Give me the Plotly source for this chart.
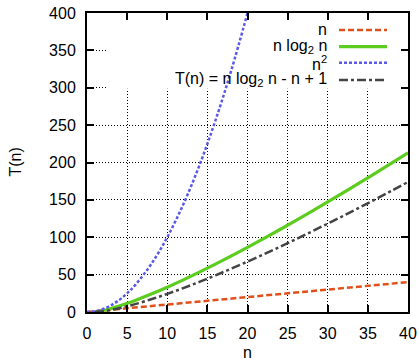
import plotly.graph_objects as go

# Values
n_x = [0, 40]
n_y = [0, 40]

nlog_x = [1, 2, 3, 4, 5, 6, 8, 10, 12, 14, 16, 18, 20, 22, 24, 26, 28, 30, 32, 34, 36, 38, 40]
nlog_y = [0, 2, 4.75, 8, 11.6, 15.5, 24, 33.2, 43.0, 53.3, 64, 75.1, 86.4, 98.1, 110.0, 122.2,
          134.6, 147.2, 160, 173.0, 186.1, 199.4, 212.9]

sq_x = [0, 1, 2, 3, 4, 5, 6, 8, 10, 12, 14, 16, 18, 20]
sq_y = [0, 1, 4, 9, 16, 25, 36, 64, 100, 144, 196, 256, 324, 400]

t_x = nlog_x
t_y = [0, 1, 2.75, 5, 7.6, 10.5, 17, 24.2, 32, 40.3, 49, 58.1, 67.4, 77.1, 87, 97.2,
       107.6, 118.2, 129, 140, 151.1, 162.4, 173.9]

x_ticks = [0, 5, 10, 15, 20, 25, 30, 35, 40]
y_ticks = [0, 50, 100, 150, 200, 250, 300, 350, 400]

labels = ["n", "n log<sub>2</sub> n", "n<sup>2</sup>", "T(n) = n log<sub>2</sub> n - n + 1"]
colors = ["#e0501a", "#5ccc1e", "#5a5ae6", "#444444"]
dashes = ["6px,3px", "solid", "3px,2px", "9px,3px,3px,3px"]
widths = [2.5, 3.2, 2.5, 2.5]

FONT = "Liberation Sans, Arial, sans-serif"
FS = 16

fig = go.Figure()
series = [(n_x, n_y), (nlog_x, nlog_y), (sq_x, sq_y), (t_x, t_y)]
for (xs, ys), lab, c, d, w in zip(series, labels, colors, dashes, widths):
    fig.add_trace(go.Scatter(x=xs, y=ys, mode="lines", name=lab,
                             line=dict(color=c, dash=d, width=w, shape="spline"),
                             showlegend=False, cliponaxis=True, hoverinfo="skip"))

# key box (hides the grid behind the key, like gnuplot)
fig.add_shape(type="rect", xref="x", yref="y", x0=2.4, x1=40, y0=298.5, y1=400,
              fillcolor="white", line=dict(width=0), layer="between")

# custom key: text on the left, sample on the right
row_y = [30, 46.7, 62.7, 80]
plot_top, plot_h = 13, 299
plot_left, plot_w = 87, 321
for lab, c, d, w, ry in zip(labels, colors, dashes, widths, row_y):
    yp = 1 - (ry - plot_top) / plot_h
    fig.add_annotation(xref="paper", yref="paper", x=(329 - plot_left) / plot_w, y=yp,
                       text=lab, showarrow=False, xanchor="right", yanchor="middle",
                       font=dict(family=FONT, size=FS, color="black"))
    fig.add_shape(type="line", xref="paper", yref="paper",
                  x0=(339 - plot_left) / plot_w, x1=(387 - plot_left) / plot_w, y0=yp, y1=yp,
                  line=dict(color=c, dash=d, width=w), layer="above")

# y-axis title placed like gnuplot's
fig.add_annotation(xref="paper", yref="paper", x=(15 - plot_left) / plot_w, y=0.5,
                   text="T(n)", textangle=-90, showarrow=False, xanchor="center", yanchor="middle",
                   font=dict(family=FONT, size=FS, color="black"))

axis_common = dict(showline=True, linecolor="black", linewidth=2, mirror="ticks",
                   ticks="inside", ticklen=7, tickwidth=2, tickcolor="black",
                   showgrid=True, gridcolor="black", gridwidth=1, griddash="1px,2px",
                   zeroline=False, automargin=False,
                   tickfont=dict(family=FONT, size=FS, color="black"))

fig.update_xaxes(range=[0, 40], tickvals=x_ticks, ticklabelstandoff=6,
                 title=dict(text="n", font=dict(family=FONT, size=FS, color="black")),
                 **axis_common)
fig.update_yaxes(range=[0, 400], tickvals=y_ticks, ticklabelstandoff=6,
                 **axis_common)

fig.update_layout(width=419, height=361, margin=dict(l=87, r=11, t=13, b=49),
                  plot_bgcolor="white", paper_bgcolor="white", showlegend=False,
                  font=dict(family=FONT, size=FS, color="black"))

fig.write_html("out.html", config={"displayModeBar": False},
               post_script="document.body.style.margin='0';document.body.style.overflow='hidden';")
